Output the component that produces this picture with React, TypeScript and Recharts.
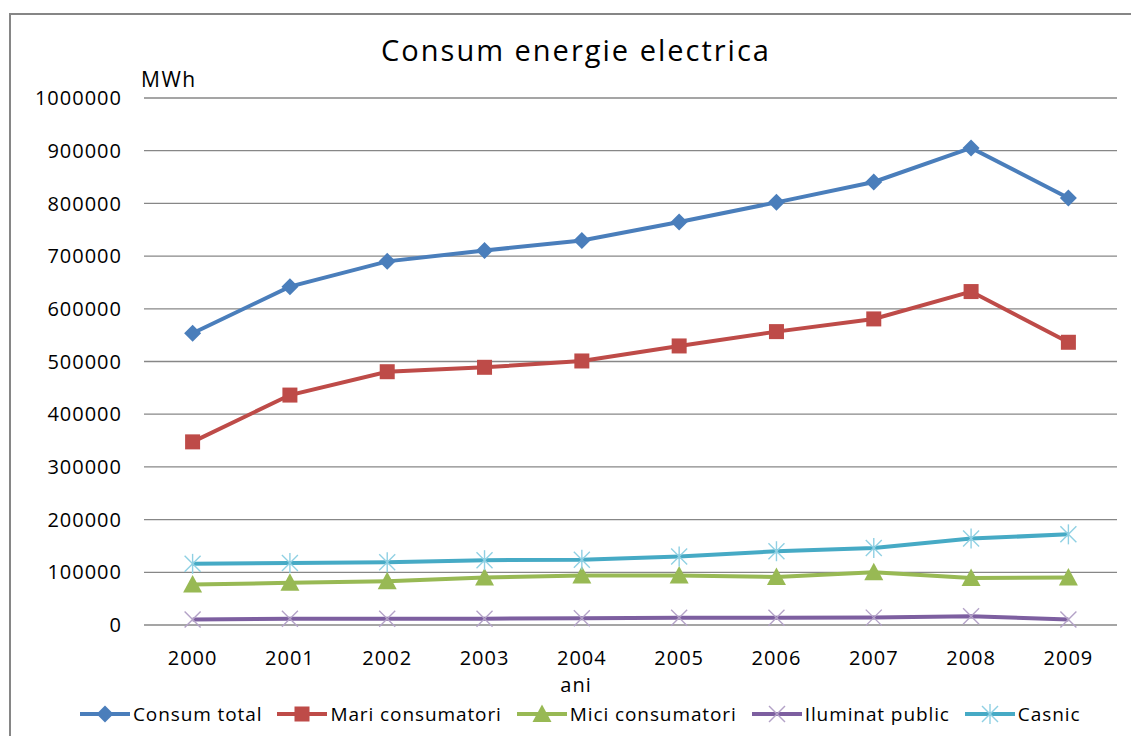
import React from 'react';
import { LineChart, Line, XAxis, YAxis, CartesianGrid } from 'recharts';

// consumption per year, MWh
const years = ['2000', '2001', '2002', '2003', '2004', '2005', '2006', '2007', '2008', '2009'];
const consumTotal = [553600, 642000, 690000, 710600, 729700, 764600, 802000, 840700, 905300, 810300];
const mariConsumatori = [347500, 436300, 480600, 489000, 501000, 529500, 556700, 580800, 632700, 536500];
const miciConsumatori = [77000, 80000, 83000, 90000, 94000, 94000, 91000, 100000, 89000, 90000];
const iluminatPublic = [10500, 12000, 12000, 12000, 13000, 13700, 13700, 14000, 16700, 10500];
const casnic = [116000, 117500, 119000, 123000, 124000, 130000, 140000, 146000, 164000, 172000];
const yTicks = [0, 100000, 200000, 300000, 400000, 500000, 600000, 700000, 800000, 900000, 1000000];

const data = years.map((year, i) => ({
  year,
  total: consumTotal[i],
  mari: mariConsumatori[i],
  mici: miciConsumatori[i],
  iluminat: iluminatPublic[i],
  casnic: casnic[i],
}));

const FONT = '"Open Sans", sans-serif';

type MarkerKind = 'diamond' | 'square' | 'triangle' | 'x' | 'star';

const Marker = ({ kind, cx, cy, color }: { kind: MarkerKind; cx: number; cy: number; color: string }) => {
  switch (kind) {
    case 'diamond':
      return <polygon points={`${cx},${cy - 8.5} ${cx + 8.5},${cy} ${cx},${cy + 8.5} ${cx - 8.5},${cy}`} fill={color} />;
    case 'square':
      return <rect x={cx - 7.5} y={cy - 7.5} width={15} height={15} fill={color} />;
    case 'triangle':
      return <polygon points={`${cx},${cy - 9.5} ${cx + 9.5},${cy + 8} ${cx - 9.5},${cy + 8}`} fill={color} />;
    case 'x':
      return (
        <g stroke={color} strokeWidth={1.4}>
          <line x1={cx - 8} y1={cy - 8} x2={cx + 8} y2={cy + 8} />
          <line x1={cx - 8} y1={cy + 8} x2={cx + 8} y2={cy - 8} />
        </g>
      );
    case 'star':
      return (
        <g stroke={color} strokeWidth={1.4}>
          <line x1={cx - 8} y1={cy - 8} x2={cx + 8} y2={cy + 8} />
          <line x1={cx - 8} y1={cy + 8} x2={cx + 8} y2={cy - 8} />
          <line x1={cx} y1={cy - 10} x2={cx} y2={cy + 10} />
        </g>
      );
  }
  return null;
};

const series: { key: string; name: string; stroke: string; marker: MarkerKind; markerColor: string }[] = [
  { key: 'total', name: 'Consum total', stroke: '#4A7EBB', marker: 'diamond', markerColor: '#4A7EBB' },
  { key: 'mari', name: 'Mari consumatori', stroke: '#BE4B48', marker: 'square', markerColor: '#BE4B48' },
  { key: 'mici', name: 'Mici consumatori', stroke: '#98B954', marker: 'triangle', markerColor: '#98B954' },
  { key: 'iluminat', name: 'Iluminat public', stroke: '#7D5FA0', marker: 'x', markerColor: '#B3A2C7' },
  { key: 'casnic', name: 'Casnic', stroke: '#46AAC5', marker: 'star', markerColor: '#8FD0E3' },
];

const makeDot = (kind: MarkerKind, color: string) => (props: any) => {
  const { cx, cy, index } = props;
  if (cx == null || cy == null) return <g key={`dot-${kind}-${index}`} />;
  return (
    <g key={`dot-${kind}-${index}`}>
      <Marker kind={kind} cx={cx} cy={cy} color={color} />
    </g>
  );
};

const ChartLegend = () => (
  <div style={{ position: 'absolute', left: 80, top: 701, display: 'flex', alignItems: 'center', fontFamily: FONT, fontSize: 19, letterSpacing: 0.9, color: '#000', whiteSpace: 'nowrap' }}>
    {series.map(s => (
      <div key={s.key} style={{ display: 'flex', alignItems: 'center', marginRight: 15 }}>
        <svg width={50} height={24} style={{ marginRight: 3 }}>
          <line x1={0} y1={12} x2={50} y2={12} stroke={s.stroke} strokeWidth={4} />
          <Marker kind={s.marker} cx={25} cy={12} color={s.markerColor} />
        </svg>
        <span>{s.name}</span>
      </div>
    ))}
  </div>
);

const tickStyle = { fill: '#000', fontSize: 20, letterSpacing: 1 };

export default function App() {
  return (
    <div style={{ position: 'fixed', left: 0, top: 0, width: 1131, height: 736, overflow: 'hidden', background: '#fff' }}>
      <div style={{ position: 'absolute', left: 9, top: 13, width: 1200, height: 800, border: '2px solid #868686', boxSizing: 'border-box' }} />
      <div style={{ position: 'absolute', left: 0, top: 30, width: 1152, textAlign: 'center', fontFamily: FONT, fontSize: 29, letterSpacing: 2, color: '#000' }}>
        Consum energie electrica
      </div>
      <div style={{ position: 'absolute', left: 141, top: 65, fontFamily: FONT, fontSize: 21, letterSpacing: 1.5, color: '#000' }}>MWh</div>
      <div style={{ position: 'absolute', left: 0, top: 671, width: 1152, textAlign: 'center', fontFamily: FONT, fontSize: 20, letterSpacing: 1, color: '#000' }}>ani</div>
      <div style={{ position: 'absolute', left: 0, top: 0 }}>
        <LineChart width={1131} height={736} data={data} margin={{ top: 98, right: 14, bottom: 71, left: 0 }} style={{ fontFamily: FONT }}>
          <CartesianGrid horizontal vertical={false} stroke="#878787" strokeWidth={1.3} />
          <XAxis
            dataKey="year"
            axisLine={false}
            tickLine={false}
            tickSize={0}
            tickMargin={26}
            height={40}
            padding={{ left: 48.6, right: 48.6 }}
            tick={tickStyle}
          />
          <YAxis
            width={144}
            domain={[0, 1000000]}
            ticks={yTicks}
            interval={0}
            axisLine={false}
            tickLine={false}
            tickSize={0}
            tickMargin={22}
            tick={tickStyle}
          />
          {series.map(s => (
            <Line
              key={s.key}
              dataKey={s.key}
              name={s.name}
              type="linear"
              stroke={s.stroke}
              strokeWidth={4}
              dot={makeDot(s.marker, s.markerColor)}
              activeDot={false}
              isAnimationActive={false}
            />
          ))}
        </LineChart>
      </div>
      <ChartLegend />
    </div>
  );
}
